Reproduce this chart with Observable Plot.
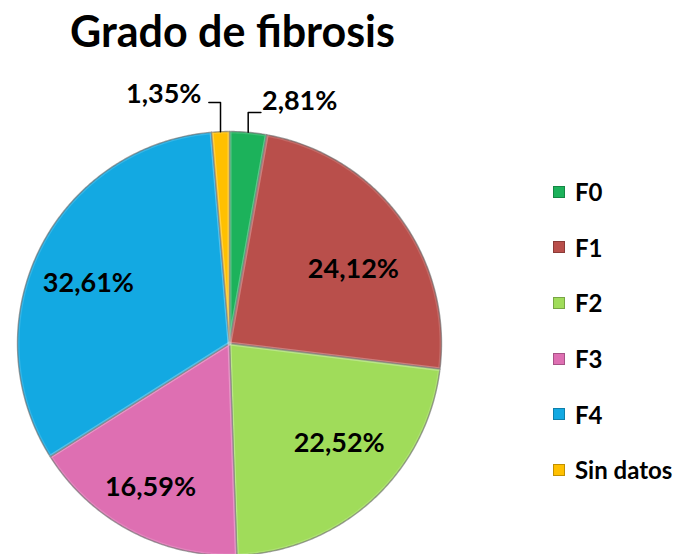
<!DOCTYPE html>
<html>
<head>
<meta charset="utf-8">
<script src="https://cdn.jsdelivr.net/npm/d3@7"></script>
<script src="https://cdn.jsdelivr.net/npm/@observablehq/plot@0.6"></script>
<style>
  html, body { margin: 0; padding: 0; background: #fff; overflow: hidden; }
  #wrap { position: relative; width: 679px; height: 554px; font-family: Lato, "Open Sans", sans-serif; }
  #title { position: absolute; left: 0; top: 5px; width: 465px; text-align: center; font-weight: 700; font-size: 43px; color: #000; z-index: 2; }
  #legend { position: absolute; left: 553px; top: 164px; z-index: 2; }
  .item { display: flex; align-items: center; height: 55.6px; font-weight: 700; font-size: 24px; color: #000; }
  .sw { width: 12px; height: 12px; margin-right: 10px; box-sizing: border-box; }
  #chart { position: absolute; left: 0; top: 0; }
</style>
</head>
<body>
<div id="wrap">
  <div id="title">Grado de fibrosis</div>
  <div id="chart"></div>
  <div id="legend"></div>
</div>
<script>
const categories = ["F0", "F1", "F2", "F3", "F4", "Sin datos"];
const values = [2.81, 24.12, 22.52, 16.59, 32.61, 1.35];
const valueLabels = ["2,81%", "24,12%", "22,52%", "16,59%", "32,61%", "1,35%"];
const colors = ["#1cb25b", "#b94f4b", "#a0dc5a", "#de6fb2", "#13a9e2", "#ffc000"];
const outside = ["F0", "Sin datos"];

const arcs = d3.pie().sort(null).value(d => d)(values);

// slice outlines sampled along each arc (data units, radius 1)
const slicePts = [];
arcs.forEach((a, i) => {
  const n = Math.max(4, Math.ceil((a.endAngle - a.startAngle) / 0.01));
  slicePts.push({cat: categories[i], x: 0, y: 0});
  for (let k = 0; k <= n; k++) {
    const t = a.startAngle + (a.endAngle - a.startAngle) * k / n;
    slicePts.push({cat: categories[i], x: Math.sin(t), y: Math.cos(t)});
  }
  slicePts.push({cat: categories[i], x: 0, y: 0});
});

// label placement: fraction of radius (layout) and angle nudge (radians)
const labelRadius = {F1: 0.68, F2: 0.70, F3: 0.775, F4: 0.723};
const labelNudge = {F1: 0.1, F2: -0.09, F3: 0.015, F4: -0.06};

const inLabels = [];
const leaderPts = [];
const outRight = [];
const outLeft = [];
arcs.forEach((a, i) => {
  const c = categories[i];
  if (!outside.includes(c)) {
    const m = (a.startAngle + a.endAngle) / 2 + labelNudge[c];
    const r = labelRadius[c];
    inLabels.push({x: r * Math.sin(m), y: r * Math.cos(m), text: valueLabels[i]});
  } else {
    const m = (a.startAngle + a.endAngle) / 2;
    const right = Math.sin(m) > 0;
    const elbowY = right ? 1.09 : 1.137;
    const x0 = Math.sin(m), y0 = Math.cos(m);
    const x2 = x0 + (right ? 0.06 : -0.055);
    leaderPts.push({cat: c, x: x0, y: y0}, {cat: c, x: x0, y: elbowY}, {cat: c, x: x2, y: elbowY});
    (right ? outRight : outLeft).push({x: x2 + (right ? 0.005 : -0.035), y: elbowY, text: valueLabels[i]});
  }
});

const plot = Plot.plot({
  width: 679,
  height: 554,
  margin: 0,
  x: {domain: [-1, 1], range: [17, 441], axis: null},
  y: {domain: [-1, 1], range: [555, 131], axis: null},
  color: {domain: categories, range: colors},
  style: {fontFamily: "Lato, 'Open Sans', sans-serif", background: "transparent"},
  marks: [
    Plot.line(slicePts, {x: "x", y: "y", z: "cat", fill: "cat", stroke: "#4a4a4a", strokeOpacity: 0.6, strokeWidth: 1.4, curve: "linear"}),
    Plot.line(slicePts, {x: "x", y: "y", z: "cat", stroke: "#ffffff", strokeOpacity: 0.15, strokeWidth: 4, curve: "linear"}),
    Plot.line(leaderPts, {x: "x", y: "y", z: "cat", stroke: "#000", strokeWidth: 1.5}),
    Plot.text(inLabels, {x: "x", y: "y", text: "text", fontSize: 27, fontWeight: 700, fill: "#000"}),
    Plot.text(outRight, {x: "x", y: "y", text: "text", textAnchor: "start", fontSize: 27, fontWeight: 700, fill: "#000", dy: -11}),
    Plot.text(outLeft, {x: "x", y: "y", text: "text", textAnchor: "end", fontSize: 27, fontWeight: 700, fill: "#000", dy: -8})
  ]
});
document.getElementById("chart").appendChild(plot);

const legend = document.getElementById("legend");
categories.forEach((c, i) => {
  const row = document.createElement("div");
  row.className = "item";
  const sw = document.createElement("span");
  sw.className = "sw";
  sw.style.background = colors[i];
  sw.style.border = "1.5px solid " + d3.color(colors[i]).darker(0.8);
  const t = document.createElement("span");
  t.textContent = c;
  row.appendChild(sw);
  row.appendChild(t);
  legend.appendChild(row);
});
</script>
</body>
</html>
